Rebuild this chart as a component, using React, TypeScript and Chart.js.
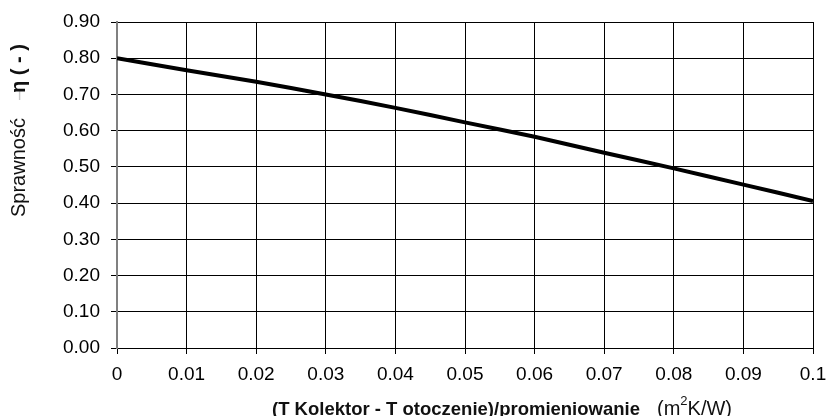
import React, { useEffect, useRef } from "react";
import { Chart, registerables } from "chart.js";

Chart.register(...registerables);

const xValues = [0, 0.01, 0.02, 0.03, 0.04, 0.05, 0.06, 0.07, 0.08, 0.09, 0.1];
const etaValues = [0.8, 0.767, 0.735, 0.7, 0.663, 0.623, 0.583, 0.539, 0.496, 0.451, 0.406];

const yTitleMain = "Sprawność";
const yTitleMark = "–";
const yTitleBold = "η ( - )";
const xTitleBold = "(T Kolektor - T otoczenie)/promieniowanie";
const xTitleUnitA = "(m";
const xTitleUnitSup = "2";
const xTitleUnitB = "K/W)";

const FONT = "'Liberation Sans', Arial, sans-serif";

const titlesPlugin = {
  id: "customTitles",
  afterDraw(chart: any) {
    const ctx = chart.ctx as CanvasRenderingContext2D;
    ctx.save();
    ctx.fillStyle = "#111";
    ctx.textBaseline = "alphabetic";
    ctx.textAlign = "left";
    // X title
    ctx.font = `bold 18.5px ${FONT}`;
    ctx.fillText(xTitleBold, 272, 415);
    let x = 657;
    ctx.font = `20px ${FONT}`;
    ctx.fillText(xTitleUnitA, x, 415);
    x += ctx.measureText(xTitleUnitA).width;
    ctx.font = `13px ${FONT}`;
    ctx.fillText(xTitleUnitSup, x, 405);
    x += ctx.measureText(xTitleUnitSup).width;
    ctx.font = `20px ${FONT}`;
    ctx.fillText(xTitleUnitB, x, 415);
    // Y title
    ctx.translate(24.5, 217);
    ctx.rotate(-Math.PI / 2);
    ctx.font = `20px ${FONT}`;
    ctx.fillText(yTitleMain, 0, 0);
    ctx.fillStyle = "#c8c8c8";
    ctx.fillText(yTitleMark, 117, 0);
    ctx.fillStyle = "#111";
    ctx.font = `bold 20px ${FONT}`;
    ctx.fillText(yTitleBold, 124, 0);
    ctx.restore();
  },
};

export default function App() {
  const ref = useRef<HTMLCanvasElement | null>(null);
  useEffect(() => {
    if (!ref.current) return;
    const chart = new Chart(ref.current, {
      type: "line",
      data: {
        datasets: [
          {
            data: xValues.map((v, i) => ({ x: v, y: etaValues[i] })),
            borderColor: "#000",
            borderWidth: 4,
            pointRadius: 0,
            tension: 0.2,
            fill: false,
          },
        ],
      },
      options: {
        responsive: false,
        animation: false,
        devicePixelRatio: 1,
        layout: { padding: { left: 0, top: 22, right: 14, bottom: 0 } },
        plugins: {
          legend: { display: false },
          tooltip: { enabled: false },
          title: { display: false },
        },
        scales: {
          x: {
            type: "linear",
            min: 0,
            max: 0.1,
            afterFit: (s: any) => {
              s.height = 68;
              s.paddingLeft = 0;
              s.paddingRight = 0;
            },
            ticks: {
              stepSize: 0.01,
              color: "#000",
              padding: 9,
              maxRotation: 0,
              autoSkip: false,
              font: { family: FONT, size: 19 },
              callback: (v: any) => String(Number(Number(v).toFixed(3))),
            },
            grid: { color: "#000", lineWidth: 1, tickLength: 6, tickColor: "#000" },
            border: { color: "#000", width: 1 },
          },
          y: {
            min: 0,
            max: 0.9,
            afterFit: (s: any) => {
              s.width = 117;
              s.paddingTop = 0;
              s.paddingBottom = 0;
            },
            ticks: {
              stepSize: 0.1,
              color: "#000",
              padding: 11,
              font: { family: FONT, size: 19 },
              callback: (v: any) => Number(v).toFixed(2),
            },
            grid: { color: "#000", lineWidth: 1, tickLength: 6, tickColor: "#000" },
            border: { color: "#808080", width: 2 },
          },
        },
      },
      plugins: [titlesPlugin],
    });
    return () => chart.destroy();
  }, []);
  return (
    <div style={{ position: "absolute", left: 0, top: 0, width: 827, height: 416, background: "#fff" }}>
      <canvas ref={ref} width={827} height={416} style={{ width: 827, height: 416 }} />
    </div>
  );
}
